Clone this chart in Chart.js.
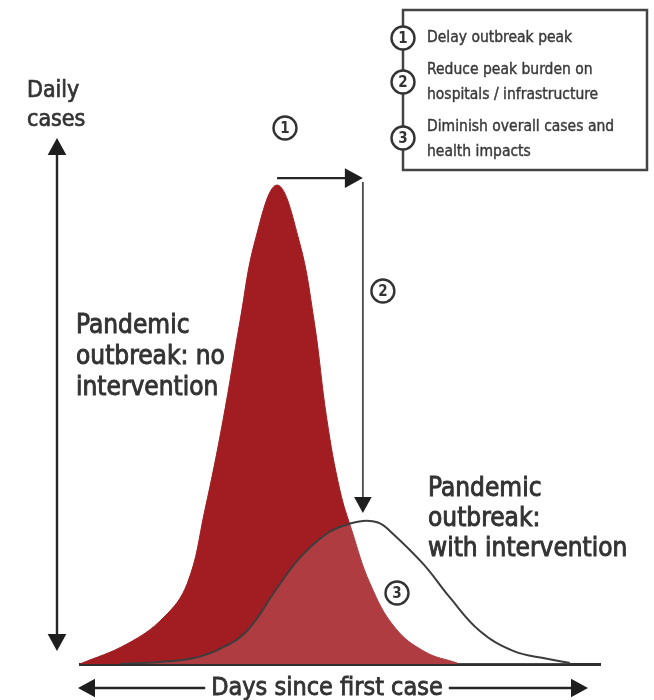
<!DOCTYPE html>
<html>
<head>
<meta charset="utf-8">
<script src="https://cdn.jsdelivr.net/npm/chart.js@4.4.1/dist/chart.umd.min.js"></script>
<style>
  html, body { margin: 0; padding: 0; background: #ffffff; }
  #wrap { width: 654px; height: 700px; position: relative; }
</style>
</head>
<body>
<div id="wrap"><canvas id="c" width="654" height="700"></canvas></div>
<script>
// ---- Data (days since first case, daily cases in arbitrary units) ----
const noInterventionDays  = [0, 9.0, 16.0, 20.6, 24.0, 27.5, 30.8, 33.7, 37.9, 42.1, 45.0, 47.5, 50.0, 52.3, 55.8, 60.6, 66.4, 72.5];
const noInterventionCases = [0, 3.8, 8.8, 15.3, 29.3, 46.5, 65.6, 80.9, 91.4, 80.9, 65.6, 46.5, 33.1, 25.4, 15.3, 6.9, 2.3, 0.2];

const interventionDays  = [7.7, 15.4, 21.7, 26.9, 32.1, 37.9, 42.3, 47.5, 51.3, 54.4, 57.3, 59.6, 66.0, 71.2, 76.9, 83.3, 89.8, 94.2];
const interventionCases = [0, 0.4, 1.1, 2.9, 6.3, 14.5, 20.3, 24.9, 26.6, 27.3, 27.0, 25.4, 19.1, 12.6, 6.3, 2.5, 1.0, 0.2];

const yAxisLabel = ["Daily", "cases"];
const xAxisLabel = "Days since first case";
const noInterventionLabel = ["Pandemic", "outbreak: no", "intervention"];
const interventionLabel = ["Pandemic", "outbreak:", "with intervention"];
const legendItems = [
  ["Delay outbreak peak"],
  ["Reduce peak burden on", "hospitals / infrastructure"],
  ["Diminish overall cases and", "health impacts"]
];

const toPoints = (xs, ys) => xs.map((x, i) => ({ x: x, y: ys[i] }));

const FONT = "'DejaVu Sans Condensed', 'Liberation Sans Narrow', 'Roboto', sans-serif";
const INK = "#333333";

function arrowHead(ctx, x, y, dir, size) {
  ctx.beginPath();
  const s = size, w = size * 0.55;
  if (dir === 'right') { ctx.moveTo(x, y); ctx.lineTo(x - s, y - w); ctx.lineTo(x - s, y + w); }
  if (dir === 'left')  { ctx.moveTo(x, y); ctx.lineTo(x + s, y - w); ctx.lineTo(x + s, y + w); }
  if (dir === 'up')    { ctx.moveTo(x, y); ctx.lineTo(x - w, y + s); ctx.lineTo(x + w, y + s); }
  if (dir === 'down')  { ctx.moveTo(x, y); ctx.lineTo(x - w, y - s); ctx.lineTo(x + w, y - s); }
  ctx.closePath();
  ctx.fill();
}

function fatText(ctx, t, x, y, sw) {
  ctx.fillText(t, x, y);
  ctx.lineWidth = sw;
  ctx.strokeStyle = ctx.fillStyle;
  ctx.strokeText(t, x, y);
}

function circled(ctx, x, y, n) {
  ctx.save();
  ctx.beginPath();
  ctx.arc(x, y, 11.5, 0, Math.PI * 2);
  ctx.fillStyle = "#ffffff";
  ctx.fill();
  ctx.lineWidth = 2.4;
  ctx.strokeStyle = INK;
  ctx.stroke();
  ctx.fillStyle = INK;
  ctx.font = "bold 15px " + FONT;
  ctx.textAlign = "center";
  ctx.textBaseline = "middle";
  ctx.fillText(String(n), x, y + 1);
  ctx.restore();
}

const annotations = {
  id: 'annotations',
  afterDraw(chart) {
    const ctx = chart.ctx;
    const xs = chart.scales.x, ys = chart.scales.y;
    const area = chart.chartArea;

    let iMax = 0; noInterventionCases.forEach((v, i) => { if (v > noInterventionCases[iMax]) iMax = i; });
    let jMax = 0; interventionCases.forEach((v, i) => { if (v > interventionCases[jMax]) jMax = i; });
    const p1x = xs.getPixelForValue(noInterventionDays[iMax]);
    const p1y = ys.getPixelForValue(noInterventionCases[iMax]);
    const p2x = xs.getPixelForValue(interventionDays[jMax]);
    const p2y = ys.getPixelForValue(interventionCases[jMax]);

    ctx.save();
    ctx.strokeStyle = "#262626";
    ctx.fillStyle = "#1e1e1e";
    ctx.lineWidth = 2.2;

    // arrow 1: delay of peak
    const ay = p1y - 7;
    ctx.beginPath(); ctx.moveTo(p1x, ay); ctx.lineTo(p2x - 14, ay); ctx.stroke();
    arrowHead(ctx, p2x, ay, 'right', 18);

    // arrow 2: reduction of peak
    ctx.lineWidth = 1.8;
    ctx.strokeStyle = "#4a4a4a";
    ctx.beginPath(); ctx.moveTo(p2x, ay + 4); ctx.lineTo(p2x, p2y - 20); ctx.stroke();
    arrowHead(ctx, p2x, p2y - 8, 'down', 16);

    // vertical axis arrow
    ctx.strokeStyle = "#262626";
    ctx.lineWidth = 2.4;
    const vx = area.left - 23;
    ctx.beginPath(); ctx.moveTo(vx, 150); ctx.lineTo(vx, 638); ctx.stroke();
    arrowHead(ctx, vx, 138, 'up', 17);
    arrowHead(ctx, vx, 651, 'down', 17);

    // horizontal axis arrow with label
    const hy = 688;
    ctx.font = "25px " + FONT;
    const tw = ctx.measureText(xAxisLabel).width;
    const cx = 327;
    ctx.beginPath();
    ctx.moveTo(92, hy); ctx.lineTo(cx - tw / 2 - 6, hy);
    ctx.moveTo(cx + tw / 2 + 6, hy); ctx.lineTo(572, hy);
    ctx.stroke();
    arrowHead(ctx, 78, hy, 'left', 17);
    arrowHead(ctx, 588, hy, 'right', 17);
    ctx.fillStyle = INK;
    ctx.textAlign = "center";
    ctx.textBaseline = "middle";
    fatText(ctx, xAxisLabel, cx, hy, 0.8);

    // texts
    ctx.textAlign = "left";
    ctx.textBaseline = "middle";
    ctx.fillStyle = INK;
    ctx.font = "23px " + FONT;
    fatText(ctx, yAxisLabel[0], 27, 91, 0.7);
    fatText(ctx, yAxisLabel[1], 27, 120, 0.7);

    ctx.font = "26px " + FONT;
    noInterventionLabel.forEach((t, i) => fatText(ctx, t, 76, 326 + i * 31, 0.9));
    interventionLabel.forEach((t, i) => fatText(ctx, t, 428, 489 + i * 30, 0.9));

    // legend box
    ctx.strokeStyle = "#444444";
    ctx.lineWidth = 2.5;
    ctx.strokeRect(403, 10, 244, 160);
    ctx.font = "15.5px " + FONT;
    ctx.fillStyle = "#3a3a3a";
    const rowY = [[38], [70, 95], [127, 152]];
    const circY = [38, 82, 138];
    legendItems.forEach((lines, i) => {
      lines.forEach((t, k) => fatText(ctx, t, 427, rowY[i][k], 0.4));
      circled(ctx, 403, circY[i], i + 1);
    });

    // circled markers on chart
    circled(ctx, 285, 128, 1);
    circled(ctx, p2x + 20, 291, 2);
    circled(ctx, 397, 593, 3);
    ctx.restore();
  }
};

new Chart(document.getElementById('c'), {
  type: 'line',
  data: {
    datasets: [
      {
        label: 'With intervention',
        data: toPoints(interventionDays, interventionCases),
        borderColor: '#3d3d3d',
        borderWidth: 2,
        backgroundColor: 'rgba(255,255,255,0.14)',
        fill: 'origin',
        pointRadius: 0,
        tension: 0.4,
        order: 0
      },
      {
        label: 'No intervention',
        data: toPoints(noInterventionDays, noInterventionCases),
        borderColor: '#a11d22',
        borderWidth: 1,
        backgroundColor: '#a11d22',
        fill: 'origin',
        pointRadius: 0,
        tension: 0.4,
        order: 1
      }
    ]
  },
  options: {
    responsive: false,
    animation: false,
    events: [],
    layout: { padding: { left: 80, right: 54, top: 140, bottom: 36 } },
    plugins: { legend: { display: false }, tooltip: { enabled: false } },
    scales: {
      x: {
        type: 'linear',
        min: 0, max: 100,
        grid: { display: false, drawTicks: false },
        ticks: { display: false },
        border: { display: true, color: '#2e2e2e', width: 3 }
      },
      y: {
        display: false,
        min: 0, max: 100
      }
    }
  },
  plugins: [annotations]
});
</script>
</body>
</html>
